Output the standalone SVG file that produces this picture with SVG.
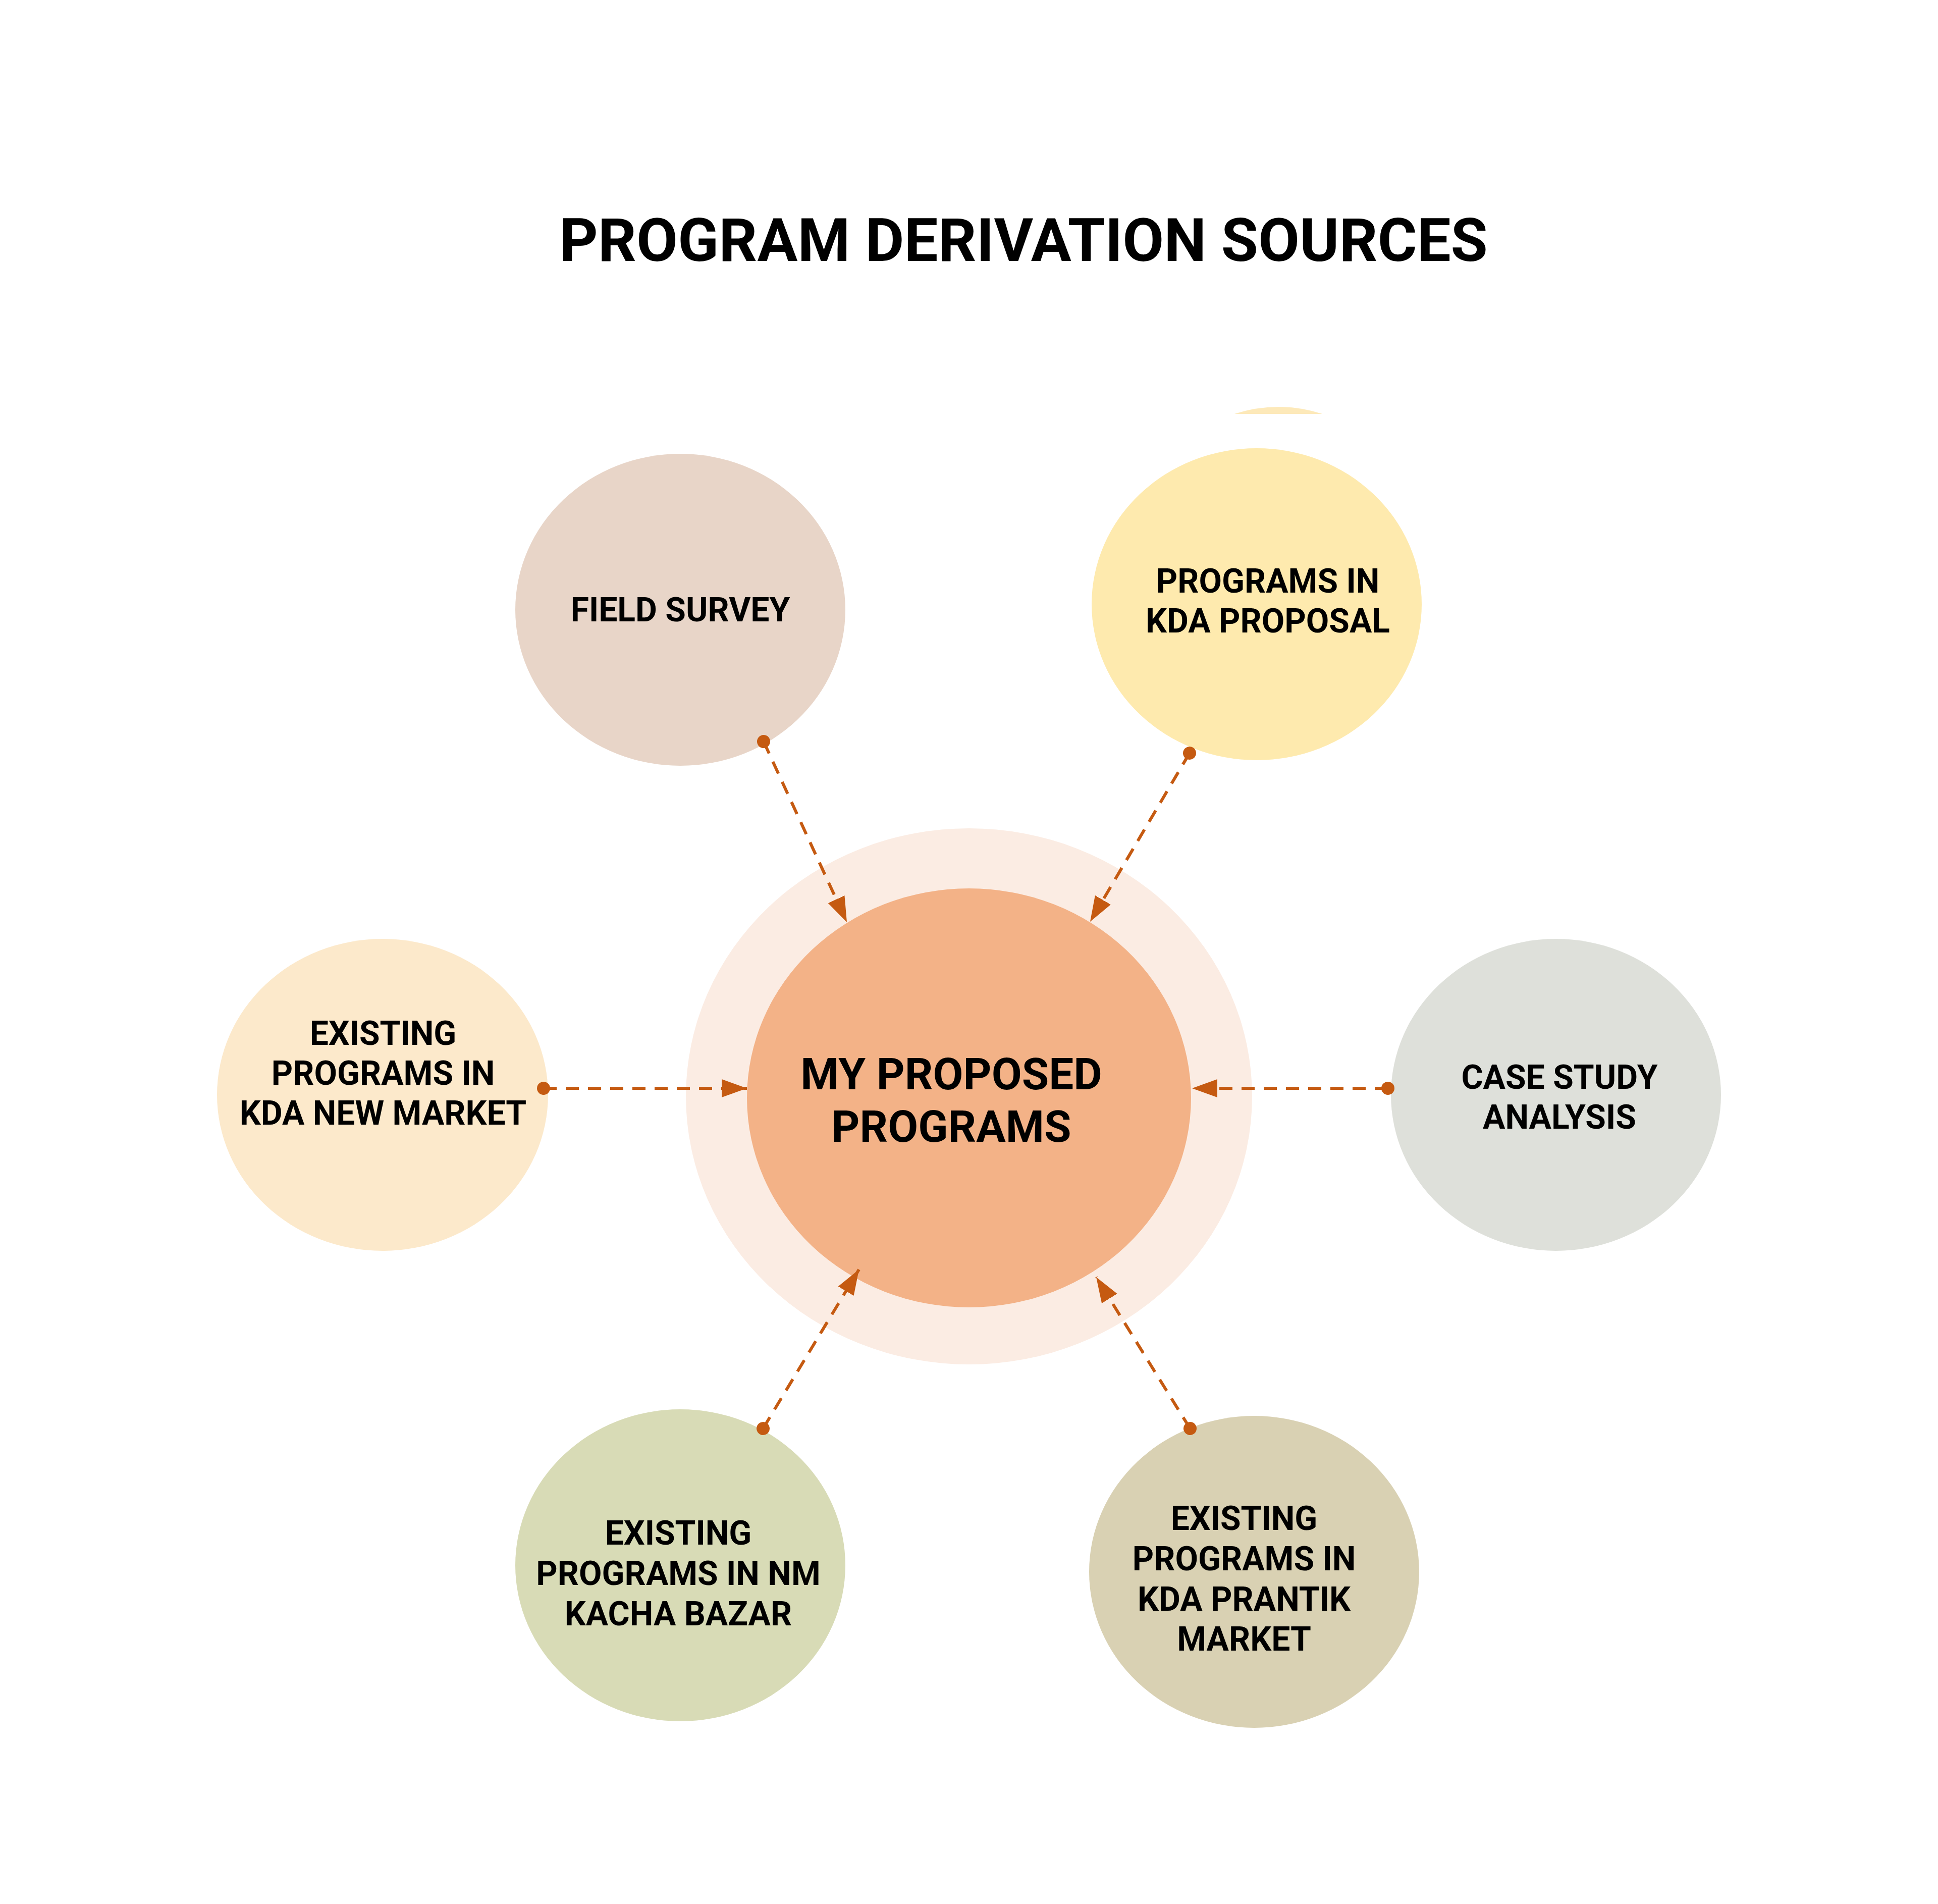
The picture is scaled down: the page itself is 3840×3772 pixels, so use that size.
<svg xmlns="http://www.w3.org/2000/svg" width="3840" height="3772" viewBox="0 0 3840 3772">
  <style>
    .lbl { font-family: Roboto, "Liberation Sans", Arial, sans-serif; font-weight: 700; fill: #000; text-anchor: middle; }
    .node-text { font-size: 66px; }
    .center-text { font-size: 87px; }
    .title { font-size: 119px; }
    .conn { stroke: #C55A11; stroke-width: 6; stroke-dasharray: 26 18; fill: none; marker-start: url(#dot); marker-end: url(#arrow); }
  </style>
  <defs>
    <marker id="arrow" markerUnits="userSpaceOnUse" markerWidth="52" markerHeight="38" refX="50" refY="18" orient="auto">
      <path d="M0,0 L50,18 L0,36 Z" fill="#C55A11"/>
    </marker>
    <marker id="dot" markerUnits="userSpaceOnUse" markerWidth="28" markerHeight="28" refX="14" refY="14" orient="auto">
      <circle cx="14" cy="14" r="13" fill="#C55A11"/>
    </marker>
  </defs>
  <rect width="3840" height="3772" fill="#FFFFFF"/>

  <g id="title">
    <text class="lbl title" x="2028" y="517">PROGRAM DERIVATION SOURCES</text>
  </g>

  <path d="M2446,820 Q2533,792 2620,820 Z" fill="#FCE4A8" opacity="0.8"/>

  <g id="node-center">
    <ellipse cx="1920" cy="2172" rx="561" ry="531" fill="#FBECE3"/>
    <ellipse cx="1920" cy="2175" rx="440" ry="415" fill="#F3B287"/>
    <text class="lbl center-text" x="1885" y="2158">MY PROPOSED</text>
    <text class="lbl center-text" x="1885" y="2262">PROGRAMS</text>
  </g>

  <g id="node-field-survey">
    <ellipse cx="1348" cy="1208" rx="327" ry="309" fill="#E8D5C8"/>
    <text class="lbl node-text" x="1348" y="1231">FIELD SURVEY</text>
  </g>

  <g id="node-kda-proposal">
    <ellipse cx="2490" cy="1197" rx="327" ry="309" fill="#FEEAAE"/>
    <text class="lbl node-text" x="2512" y="1174">PROGRAMS IN</text>
    <text class="lbl node-text" x="2512" y="1253">KDA PROPOSAL</text>
  </g>

  <g id="node-kda-new-market">
    <ellipse cx="758" cy="2169" rx="328" ry="309" fill="#FCE9CB"/>
    <text class="lbl node-text" x="759" y="2070">EXISTING</text>
    <text class="lbl node-text" x="759" y="2149">PROGRAMS IN</text>
    <text class="lbl node-text" x="759" y="2228">KDA NEW MARKET</text>
  </g>

  <g id="node-case-study">
    <ellipse cx="3083" cy="2169" rx="327" ry="309" fill="#DEE0DA"/>
    <text class="lbl node-text" x="3090" y="2157">CASE STUDY</text>
    <text class="lbl node-text" x="3090" y="2236">ANALYSIS</text>
  </g>

  <g id="node-kacha-bazar">
    <ellipse cx="1348" cy="3101" rx="327" ry="309" fill="#D8DBB6"/>
    <text class="lbl node-text" x="1344" y="3060">EXISTING</text>
    <text class="lbl node-text" x="1344" y="3140">PROGRAMS IN NM</text>
    <text class="lbl node-text" x="1344" y="3220">KACHA BAZAR</text>
  </g>

  <g id="node-prantik">
    <ellipse cx="2485" cy="3114" rx="327" ry="309" fill="#D9D1B3"/>
    <text class="lbl node-text" x="2465" y="3031">EXISTING</text>
    <text class="lbl node-text" x="2465" y="3111">PROGRAMS IN</text>
    <text class="lbl node-text" x="2465" y="3191">KDA PRANTIK</text>
    <text class="lbl node-text" x="2465" y="3270">MARKET</text>
  </g>

  <g id="connectors">
    <path class="conn" d="M1513,1469 L1678,1827"/>
    <path class="conn" d="M2357,1492 L2160,1826"/>
    <path class="conn" d="M1077,2156 L1480,2156"/>
    <path class="conn" d="M2750,2156 L2362,2156"/>
    <path class="conn" d="M1512,2830 L1702,2515"/>
    <path class="conn" d="M2358,2830 L2172,2530"/>
  </g>
</svg>
